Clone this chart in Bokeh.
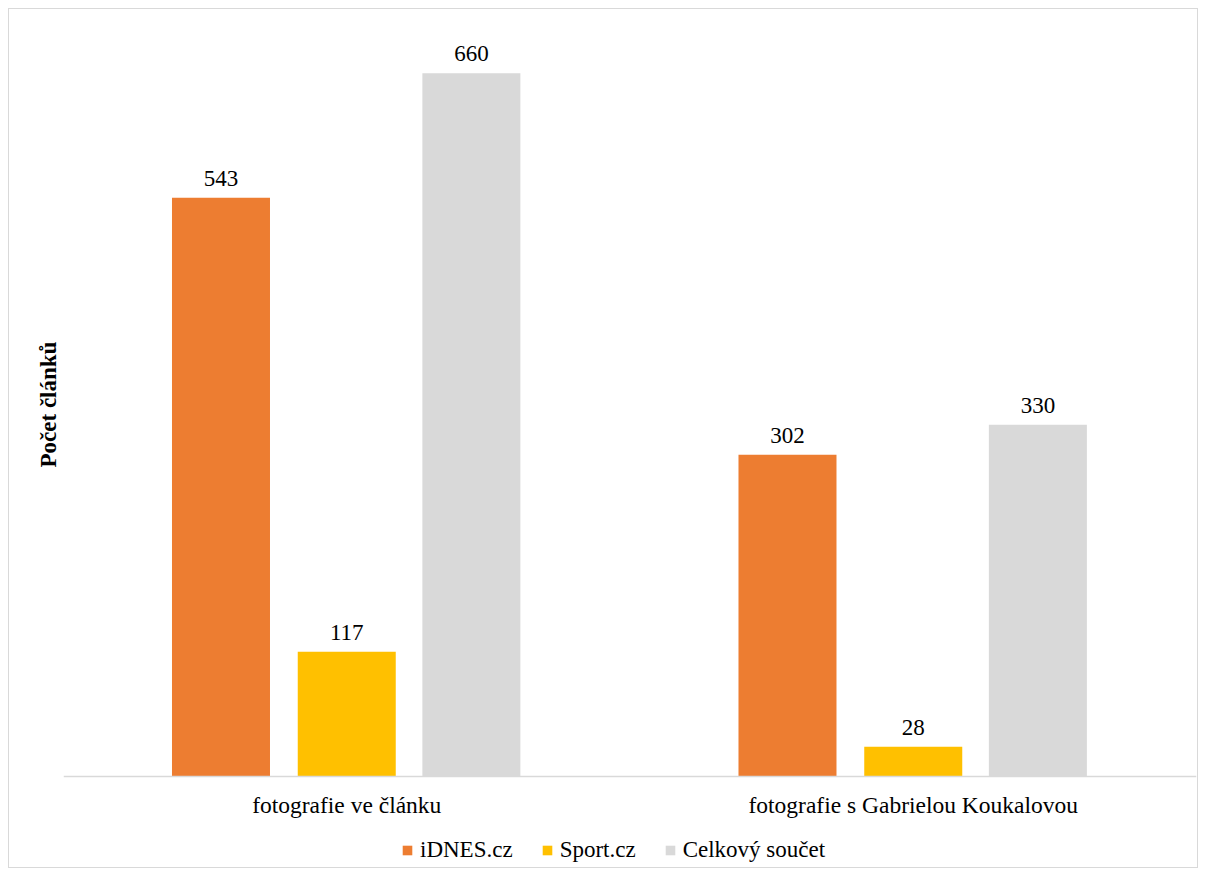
from bokeh.plotting import figure
from bokeh.models import ColumnDataSource, FactorRange, Legend, LegendItem, Span, Title
from bokeh.transform import dodge
from bokeh.core.properties import value
from bokeh.embed import file_html
from bokeh.resources import INLINE

categories = ["fotografie ve článku", "fotografie s Gabrielou Koukalovou"]
series_names = ["iDNES.cz", "Sport.cz", "Celkový součet"]
idnes = [543, 302]
sport = [117, 28]
celkem = [660, 330]
colors = ["#ED7D31", "#FFC000", "#D9D9D9"]
y_title = "Počet článků"

FONT = "Liberation Serif"

src = ColumnDataSource(dict(cat=categories, zero=[0, 0], idnes=idnes, sport=sport, celkem=celkem,
                            l_idnes=[str(v) for v in idnes],
                            l_sport=[str(v) for v in sport],
                            l_celkem=[str(v) for v in celkem]))

# y range extends below zero so the legend and category labels sit inside the frame
p = figure(x_range=FactorRange(*categories, range_padding=0), y_range=(-87.3, 700),
           width=1190, height=860, output_backend="svg", toolbar_location=None,
           min_border_left=54, min_border_right=3, min_border_top=21, min_border_bottom=0)
p.styles = {"border": "1px solid #d9d9d9", "margin-left": "8px", "margin-top": "8px"}
p.outline_line_color = None
p.xgrid.grid_line_color = None
p.ygrid.grid_line_color = None
p.xaxis.visible = False
p.yaxis.visible = False

offsets = [-0.222, 0.0, 0.22]
fields = ["idnes", "sport", "celkem"]
renderers = []
for f, off, c in zip(fields, offsets, colors):
    r = p.vbar(x=dodge("cat", off, range=p.x_range), top=f, bottom=0, width=0.173, source=src,
               fill_color=c, line_color=None)
    renderers.append(r)
    p.text(x=dodge("cat", off, range=p.x_range), y=f, text="l_" + f, source=src,
           text_align="center", text_baseline="bottom", y_offset=-12,
           text_font=value(FONT), text_font_size="23px", text_color="#000000")

# baseline (category axis line)
p.add_layout(Span(location=0, dimension="width", line_color="#d9d9d9", line_width=1.5))

# category labels
p.text(x="cat", y="zero", text="cat", source=src, text_align="center", text_baseline="top",
       y_offset=16, text_font=value(FONT), text_font_size="23.5px", text_color="#000000")

# vertical axis title
p.add_layout(Title(text=y_title, align="left", offset=402, standoff=6,
                   text_font=FONT, text_font_style="bold", text_font_size="23px",
                   text_color="#000000"), "left")

legend = Legend(items=[LegendItem(label=n, renderers=[r]) for n, r in zip(series_names, renderers)],
                orientation="horizontal", location=(338, 6),
                label_text_font=FONT, label_text_font_size="23px", label_text_color="#000000",
                glyph_width=12, glyph_height=12, label_standoff=7, spacing=28,
                border_line_color=None, background_fill_alpha=0,
                padding=4, margin=0)
p.add_layout(legend, "center")

open("out.html", "w").write(file_html(p, INLINE))
